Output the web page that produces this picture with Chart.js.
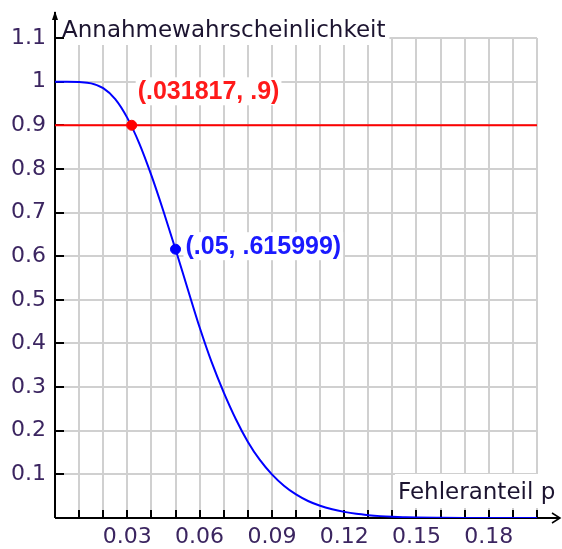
<!DOCTYPE html>
<html>
<head>
<meta charset="utf-8">
<script src="https://cdn.jsdelivr.net/npm/chart.js@4.4.0/dist/chart.umd.min.js"></script>
<style>
  html, body { margin: 0; padding: 0; background: #ffffff; }
  #wrap { width: 562px; height: 549px; }
</style>
</head>
<body>
<div id="wrap"><canvas id="ocChart" width="562" height="549"></canvas></div>
<script>
// --- Daten ---
const fehleranteil = [0, 0.005, 0.01, 0.015, 0.02, 0.025, 0.03, 0.035, 0.04, 0.045,
  0.05, 0.055, 0.06, 0.065, 0.07, 0.075, 0.08, 0.085, 0.09, 0.095,
  0.1, 0.105, 0.11, 0.115, 0.12, 0.125, 0.13, 0.135, 0.14, 0.145,
  0.15, 0.16, 0.17, 0.18, 0.19, 0.2];
const annahme = [1, 1, 0.999, 0.996, 0.985, 0.96, 0.917, 0.858, 0.785, 0.703,
  0.616, 0.526, 0.437, 0.357, 0.288, 0.227, 0.175, 0.133, 0.1, 0.074,
  0.054, 0.039, 0.028, 0.02, 0.014, 0.0095, 0.0065, 0.0043, 0.0028, 0.0018,
  0.001, 0.0004, 0.0001, 0, 0, 0];
const schwelle = 0.9;
const rotPunkt = { x: 0.031817, y: 0.9, text: "(.031817, .9)" };
const blauPunkt = { x: 0.05, y: 0.615999, text: "(.05, .615999)" };
const xTickLabels = ["0.03", "0.06", "0.09", "0.12", "0.15", "0.18"];
const yTickLabels = ["0.1", "0.2", "0.3", "0.4", "0.5", "0.6", "0.7", "0.8", "0.9", "1", "1.1"];

const xMax = 0.2;
const yMax = 1.1;

const curveData = fehleranteil.map((p, i) => ({ x: p, y: annahme[i] }));

// ===============================
// Achsen, Pfeile, Beschriftungen
// ===============================
const axesPlugin = {
  id: "axesPlugin",
  beforeDatasetsDraw(chart) {
    const ctx = chart.ctx;
    const xs = chart.scales.x;
    const ys = chart.scales.y;
    const x0 = xs.getPixelForValue(0);
    const y0 = ys.getPixelForValue(0);
    const regular = "23px 'DejaVu Sans'";
    const bold = "bold 25px 'Liberation Sans'";

    ctx.save();

    // Textkästen mit weißem Hintergrund
    function box(text, font, left, baseline, color, padX, top, bottom) {
      ctx.font = font;
      const w = ctx.measureText(text).width;
      ctx.fillStyle = "#ffffff";
      ctx.fillRect(left - padX, baseline - top, w + 2 * padX, top + bottom);
      ctx.fillStyle = color;
      ctx.textAlign = "left";
      ctx.textBaseline = "alphabetic";
      ctx.fillText(text, left, baseline);
    }

    box("Annahmewahrscheinlichkeit", regular, x0 + 7, 37, "#1c1430", 4, 25, 8);
    box("Fehleranteil p", regular, 398, 499, "#1c1430", 3, 25, 9);

    const rx = xs.getPixelForValue(rotPunkt.x);
    const ry = ys.getPixelForValue(rotPunkt.y);
    box(rotPunkt.text, bold, rx + 6, ry - 26, "#ff1a1a", 2, 22, 6);

    const bx = xs.getPixelForValue(blauPunkt.x);
    const by = ys.getPixelForValue(blauPunkt.y);
    box(blauPunkt.text, bold, bx + 10, by + 5, "#1a1aff", 2, 22, 6);

    // Achsenlinien
    ctx.strokeStyle = "#000000";
    ctx.lineWidth = 2;
    ctx.beginPath();
    ctx.moveTo(x0, y0);
    ctx.lineTo(x0, 12);
    ctx.moveTo(x0, y0);
    ctx.lineTo(559, y0);
    ctx.stroke();

    // Pfeilspitzen
    ctx.lineWidth = 1.5;
    ctx.beginPath();
    ctx.moveTo(552, y0 - 5);
    ctx.lineTo(560, y0);
    ctx.lineTo(552, y0 + 5);
    ctx.stroke();
    ctx.fillStyle = "#000000";
    ctx.beginPath();
    ctx.moveTo(x0 - 3, 20);
    ctx.lineTo(x0, 11);
    ctx.lineTo(x0 + 3, 20);
    ctx.closePath();
    ctx.fill();

    // Teilstriche innen
    ctx.lineWidth = 2;
    ctx.beginPath();
    for (let i = 1; i <= 20; i++) {
      const px = Math.round(xs.getPixelForValue(i / 100));
      ctx.moveTo(px, y0);
      ctx.lineTo(px, y0 - 8);
    }
    for (let j = 1; j <= 11; j++) {
      const py = Math.round(ys.getPixelForValue(j / 10));
      ctx.moveTo(x0, py);
      ctx.lineTo(x0 + 9, py);
    }
    ctx.stroke();

    ctx.restore();
  }
};

const ctxOc = document.getElementById("ocChart");
new Chart(ctxOc, {
  type: "line",
  data: {
    datasets: [
      {
        label: "OC",
        data: curveData,
        borderColor: "#0000ff",
        borderWidth: 2,
        pointRadius: 0,
        cubicInterpolationMode: "monotone",
        order: 3
      },
      {
        label: "Schwelle",
        data: [{ x: 0, y: schwelle }, { x: xMax, y: schwelle }],
        borderColor: "#ff0000",
        borderWidth: 2,
        pointRadius: 0,
        order: 2
      },
      {
        label: "rot",
        data: [{ x: rotPunkt.x, y: rotPunkt.y }],
        showLine: false,
        pointRadius: 5,
        pointBackgroundColor: "#ff0000",
        pointBorderColor: "#ff0000",
        order: 1
      },
      {
        label: "blau",
        data: [{ x: blauPunkt.x, y: blauPunkt.y }],
        showLine: false,
        pointRadius: 5,
        pointBackgroundColor: "#0000ff",
        pointBorderColor: "#0000ff",
        order: 0
      }
    ]
  },
  options: {
    responsive: false,
    animation: false,
    devicePixelRatio: 1,
    layout: { padding: { top: 38, right: 25, left: 0, bottom: 0 } },
    plugins: {
      legend: { display: false },
      tooltip: { enabled: false }
    },
    scales: {
      x: {
        type: "linear",
        min: 0,
        max: xMax,
        afterFit(scale) { scale.height = 31; },
        border: { display: false },
        grid: { color: "#d0d0d0", lineWidth: 2, drawTicks: false },
        ticks: {
          stepSize: 0.01,
          autoSkip: false,
          maxRotation: 0,
          padding: 6,
          color: "#3b2560",
          font: { family: "DejaVu Sans", size: 22 },
          callback(value) {
            const k = Math.round(value * 100);
            if (k === 0 || k % 3 !== 0) return "";
            return xTickLabels[k / 3 - 1] || "";
          }
        }
      },
      y: {
        type: "linear",
        min: 0,
        max: yMax,
        afterFit(scale) { scale.width = 55; },
        border: { display: false },
        grid: { color: "#d0d0d0", lineWidth: 2, drawTicks: false },
        ticks: {
          stepSize: 0.1,
          padding: 9,
          color: "#3b2560",
          font: { family: "DejaVu Sans", size: 22 },
          callback(value) {
            const k = Math.round(value * 10);
            if (k === 0) return "";
            return yTickLabels[k - 1] || "";
          }
        }
      }
    }
  },
  plugins: [axesPlugin]
});
</script>
</body>
</html>
